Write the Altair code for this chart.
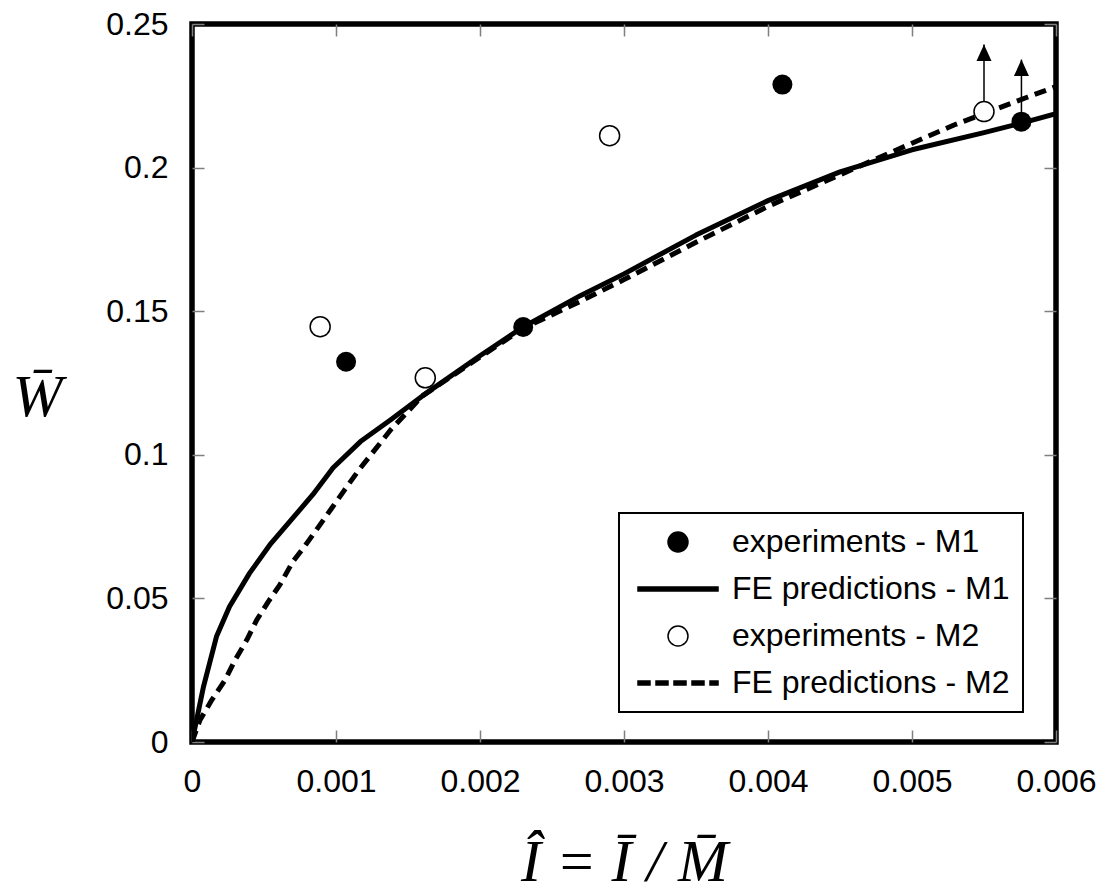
import altair as alt
import pandas as pd

# ---------------- data ----------------
m1_fe_x = [0, 0.00008, 0.00017, 0.00026, 0.0004, 0.00054, 0.00068, 0.00084, 0.00098,
           0.00117, 0.00138, 0.0016, 0.002, 0.0023, 0.0027, 0.003, 0.0035, 0.004,
           0.0045, 0.005, 0.0055, 0.00576, 0.006]
m1_fe_y = [0, 0.0193, 0.0367, 0.0471, 0.0588, 0.0686, 0.0768, 0.0862, 0.0955,
           0.1046, 0.1122, 0.1205, 0.1345, 0.1445, 0.1555, 0.163, 0.1765, 0.1885,
           0.1985, 0.2062, 0.2122, 0.2155, 0.2188]

m2_fe_x = [0, 0.000056, 0.000137, 0.00023, 0.0003, 0.00038, 0.00045, 0.00053, 0.00061,
           0.0007, 0.00078, 0.00088, 0.00097, 0.00106, 0.00116, 0.00126, 0.00138, 0.0016,
           0.002, 0.0023, 0.0027, 0.003, 0.0035, 0.004, 0.0045, 0.005, 0.0053, 0.0056,
           0.0058, 0.006]
m2_fe_y = [0, 0.0077, 0.0146, 0.0216, 0.0286, 0.0355, 0.0425, 0.0489, 0.0547,
           0.0628, 0.068, 0.075, 0.0814, 0.0878, 0.0948, 0.1011, 0.1087, 0.1205,
           0.134, 0.144, 0.1535, 0.161, 0.1740, 0.1865, 0.1975, 0.2085, 0.215, 0.2207,
           0.2245, 0.2282]

m1_exp_x = [0.00107, 0.0023, 0.0041, 0.00576]
m1_exp_y = [0.1324, 0.1445, 0.2289, 0.216]
m2_exp_x = [0.00089, 0.00162, 0.0029, 0.0055]
m2_exp_y = [0.1446, 0.1268, 0.2111, 0.2195]

arrow_x = [0.0055, 0.00576]
arrow_base = [0.2195, 0.216]
arrow_tip = [0.2429, 0.2376]

legend_labels = ["experiments - M1", "FE predictions - M1",
                 "experiments - M2", "FE predictions - M2"]
x_ticks = [0, 0.001, 0.002, 0.003, 0.004, 0.005, 0.006]
y_ticks = [0, 0.05, 0.1, 0.15, 0.2, 0.25]

# ---------------- tables ----------------
m1_fe = pd.DataFrame({"x": m1_fe_x, "y": m1_fe_y})
m2_fe = pd.DataFrame({"x": m2_fe_x, "y": m2_fe_y})
m1_exp = pd.DataFrame({"x": m1_exp_x, "y": m1_exp_y})
m2_exp = pd.DataFrame({"x": m2_exp_x, "y": m2_exp_y})
arrows = pd.DataFrame({"x": arrow_x, "base": arrow_base, "tip": arrow_tip})
exp_all = pd.DataFrame({
    "x": m1_exp_x + m2_exp_x,
    "y": m1_exp_y + m2_exp_y,
    "series": [legend_labels[0]] * len(m1_exp_x) + [legend_labels[2]] * len(m2_exp_x),
})

W, H = 864, 718
FONT = "Liberation Sans"
SERIF = "Liberation Serif"

xs = alt.Scale(domain=[0, 0.006], nice=False, zero=True)
ys = alt.Scale(domain=[0, 0.25], nice=False, zero=True)

x_axis = alt.Axis(
    values=x_ticks, format="~g", ticks=False, domain=False,
    grid=True, gridDash=[12, H - 24, 12], gridColor="#808080", gridWidth=1.5,
    labelFont=FONT, labelFontSize=32, labelColor="black", labelPadding=24,
    labelFlush=False, labelOverlap=False,
    title="\u00CE = \u012A / M\u0304", titleFont=SERIF, titleFontSize=60,
    titleFontStyle="italic", titleFontWeight="normal", titleColor="black",
    titleBaseline="alphabetic", titleY=138, titleX=W / 2, titleAlign="center",
)
y_axis = alt.Axis(
    values=y_ticks, format="~g", ticks=False, domain=False,
    grid=True, gridDash=[12, W - 24, 12], gridColor="#808080", gridWidth=1.5,
    labelFont=FONT, labelFontSize=32, labelColor="black", labelPadding=24,
    labelOverlap=False,
    title="W\u0304", titleFont=SERIF, titleFontSize=60, titleFontStyle="italic",
    titleFontWeight="normal", titleColor="black", titleAngle=0,
    titleAlign="center", titleBaseline="alphabetic", titleX=-155, titleY=391,
)

def X(field="x"):
    return alt.X(f"{field}:Q", scale=xs, axis=x_axis)

def Y(field="y"):
    return alt.Y(f"{field}:Q", scale=ys, axis=y_axis)

line_m1 = alt.Chart(m1_fe).mark_line(
    color="black", strokeWidth=5, interpolate="linear", strokeJoin="round", clip=True
).encode(x=X(), y=Y())

line_m2 = alt.Chart(m2_fe).mark_line(
    color="black", strokeWidth=5, strokeDash=[12, 7], interpolate="linear",
    strokeJoin="round", clip=True
).encode(x=X(), y=Y())

shafts = alt.Chart(arrows).mark_rule(color="black", strokeWidth=1.5).encode(
    x=X(), y=Y("base"), y2="tip:Q"
)
heads = alt.Chart(arrows).mark_point(
    shape="M0,0L-0.5,1.1L0.5,1.1Z", filled=True, color="black", size=900,
    strokeWidth=0, opacity=1
).encode(x=X(), y=Y("tip"))

pts_m1 = alt.Chart(m1_exp).mark_point(
    shape="circle", filled=True, color="black", size=400, opacity=1
).encode(x=X(), y=Y())

pts_m2 = alt.Chart(m2_exp).mark_point(
    shape="circle", fill="white", stroke="black", strokeWidth=1.5, size=400,
    opacity=1, filled=True
).encode(x=X(), y=Y())

# legend symbols (custom paths in units of sqrt(size)/2 = 10 px)
circ = "M2,0A1,1,0,1,0,4,0A1,1,0,1,0,2,0Z"
solid = "M-1,-0.2H7V0.2H-1Z"
dashed = ("M-1,-0.2H0.2V0.2H-1Z M0.8,-0.2H2V0.2H0.8Z M2.6,-0.2H3.8V0.2H2.6Z "
          "M4.4,-0.2H5.6V0.2H4.4Z M6.2,-0.2H7V0.2H6.2Z")

leg = alt.Legend(
    title=None, orient="none", legendX=427, legendY=489,
    labelFont=FONT, labelFontSize=32, labelColor="black", labelLimit=0,
    labelOffset=68, rowPadding=15, padding=13,
    symbolSize=400, symbolStrokeWidth=1.5, symbolOpacity=1,
    strokeColor="black", fillColor="white",
)

legend_layer = alt.Chart(exp_all).mark_point(filled=True, size=400, opacity=0).encode(
    x=X(), y=Y(),
    shape=alt.Shape("series:N", scale=alt.Scale(domain=legend_labels,
                    range=[circ, solid, circ, dashed]), legend=leg),
    fill=alt.Fill("series:N", scale=alt.Scale(domain=legend_labels,
                  range=["black", "black", "white", "black"]), legend=leg),
    stroke=alt.Stroke("series:N", scale=alt.Scale(domain=legend_labels,
                      range=["black", "black", "black", "black"]), legend=leg),
)

chart = alt.layer(
    line_m2, line_m1, shafts, heads, pts_m1, pts_m2, legend_layer
).properties(
    width=W, height=H,
    background="white",
    autosize=alt.AutoSizeParams(type="none"),
    padding={"left": 192, "top": 24, "right": 49, "bottom": 152},
).configure_view(
    stroke="black", strokeWidth=5.5
).configure_legend(
    strokeWidth=2
)

chart.save("out.html", embed_options={"renderer": "svg", "actions": False})
